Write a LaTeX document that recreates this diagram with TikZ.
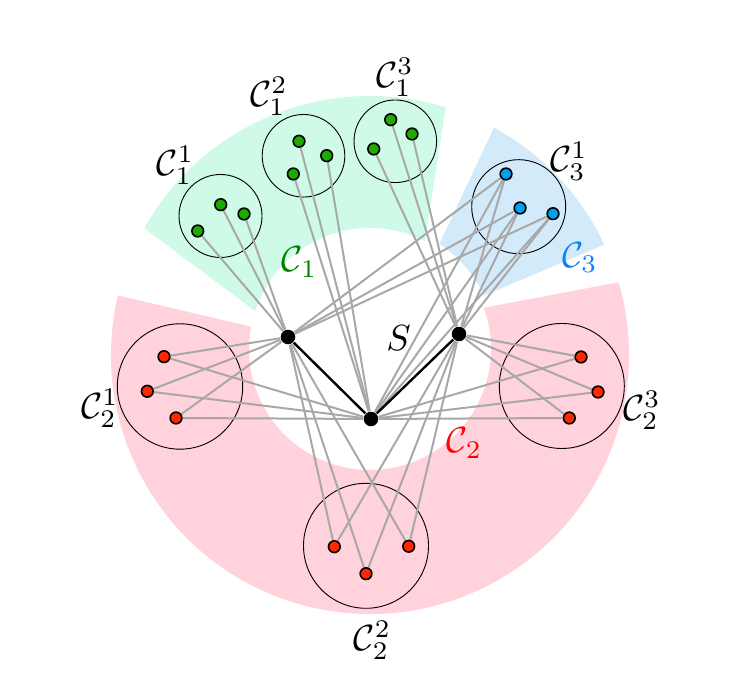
\documentclass[tikz,border=0pt]{standalone}
\usetikzlibrary{calc,backgrounds}
\definecolor{secgreen}{RGB}{208,250,232}
\definecolor{secblue}{RGB}{210,234,250}
\definecolor{secred}{RGB}{255,210,220}
\definecolor{dotgreen}{RGB}{30,170,0}
\definecolor{dotblue}{RGB}{0,160,240}
\definecolor{dotred}{RGB}{255,40,0}
\definecolor{labgreen}{RGB}{0,128,0}
\definecolor{labblue}{RGB}{10,130,255}
\definecolor{edgegray}{RGB}{168,168,168}
\begin{document}
\begin{tikzpicture}[x=0.275pt,y=0.275pt,
  sdot/.style={circle,fill=black,inner sep=0pt,minimum size=4pt},
  cdot/.style={circle,draw=black,line width=0.45pt,fill=#1,inner sep=0pt,minimum size=3.2pt},
  clus/.style={draw=black,line width=0.25pt},
  gline/.style={draw=edgegray,line width=0.55pt},
  bline/.style={draw=black,line width=0.65pt},
  lab/.style={inner sep=0pt,anchor=center}]
\useasboundingbox (0,0) rectangle (747,692);
\coordinate (Co) at (370,337);
\coordinate (Ci) at (370,343);
% S vertices
\node[sdot] (c) at (371,273) {};
\node[sdot] (a) at (288,355) {};
\node[sdot] (b) at (459,358) {};
% cluster vertices
\node[cdot=dotgreen] (g11) at (197.7,461) {};
\node[cdot=dotgreen] (g12) at (220.7,487.3) {};
\node[cdot=dotgreen] (g13) at (244,478) {};
\node[cdot=dotgreen] (g21) at (299,550.7) {};
\node[cdot=dotgreen] (g22) at (326.7,536.3) {};
\node[cdot=dotgreen] (g23) at (293.3,518) {};
\node[cdot=dotgreen] (g31) at (390.7,572.3) {};
\node[cdot=dotgreen] (g32) at (412,558) {};
\node[cdot=dotgreen] (g33) at (373.7,543) {};
\node[cdot=dotblue] (u1) at (506,518) {};
\node[cdot=dotblue] (u2) at (520,484) {};
\node[cdot=dotblue] (u3) at (553,478.3) {};
\node[cdot=dotred] (r11) at (164,335.3) {};
\node[cdot=dotred] (r12) at (147.3,300.7) {};
\node[cdot=dotred] (r13) at (176,274) {};
\node[cdot=dotred] (r21) at (334.3,145.3) {};
\node[cdot=dotred] (r22) at (408.7,145.7) {};
\node[cdot=dotred] (r23) at (366,118.3) {};
\node[cdot=dotred] (r31) at (581,335) {};
\node[cdot=dotred] (r32) at (598,300) {};
\node[cdot=dotred] (r33) at (569.3,274) {};
\begin{pgfonlayer}{background}
% sectors
\fill[secred] ($(Co)+(166.7:259)$) arc[start angle=166.7,end angle=376.3,radius=259]
  -- ($(Ci)+(19.9:121)$) arc[start angle=19.9,end angle=-190.6,radius=121] -- cycle;
\fill[secgreen] ($(Co)+(73:259)$) arc[start angle=73,end angle=150.7,radius=259]
  -- ($(Ci)+(161.7:121)$) arc[start angle=161.7,end angle=63,radius=121] -- cycle;
\fill[secblue] ($(Co)+(25.2:259)$) arc[start angle=25.2,end angle=61.4,radius=259]
  -- ($(Ci)+(56.6:126)$) arc[start angle=56.6,end angle=25.1,radius=126] -- cycle;
% cluster circles
\draw[clus] (220.5,476) circle[radius=41.5];
\draw[clus] (303.5,536.2) circle[radius=41.3];
\draw[clus] (395.3,550.7) circle[radius=41.3];
\draw[clus] (518.7,485.3) circle[radius=47];
\draw[clus] (180,305.5) circle[radius=62.7];
\draw[clus] (561.8,306) circle[radius=62.5];
\draw[clus] (366,146.2) circle[radius=62.5];
% edges
\foreach \v in {g11,g12,g13,r11,r12,r13,r21,r22,r23,u1,u2,u3} \draw[gline] (a) -- (\v);
\foreach \v in {g31,g32,g33,r31,r32,r33,r21,r22,r23,u1,u2,u3} \draw[gline] (b) -- (\v);
\foreach \v in {g21,g22,g23,r11,r12,r13,r31,r32,r33,u1,u2,u3} \draw[gline] (c) -- (\v);
\draw[bline] (a) -- (c) -- (b);
\end{pgfonlayer}
% labels
\node[lab] (l11) at (175.5,527) {$\mathcal{C}_1^1$};
\node[lab] (l12) at (269,595.5) {$\mathcal{C}_1^2$};
\node[lab] (l13) at (395,614.5) {$\mathcal{C}_1^3$};
\node[lab] (l31) at (569,530.5) {$\mathcal{C}_3^1$};
\node[lab] (l21) at (100,284) {$\mathcal{C}_2^1$};
\node[lab] (l23) at (642,282) {$\mathcal{C}_2^3$};
\node[lab] (l22) at (372.5,52) {$\mathcal{C}_2^2$};
\node[lab,text=labgreen] (L1) at (299.7,430) {$\mathcal{C}_1$};
\node[lab,text=red] (L2) at (464.5,249) {$\mathcal{C}_2$};
\node[lab,text=labblue] (L3) at (580,434.5) {$\mathcal{C}_3$};
\node[lab] (S) at (398.5,354) {$S$};
\end{tikzpicture}
\end{document}
